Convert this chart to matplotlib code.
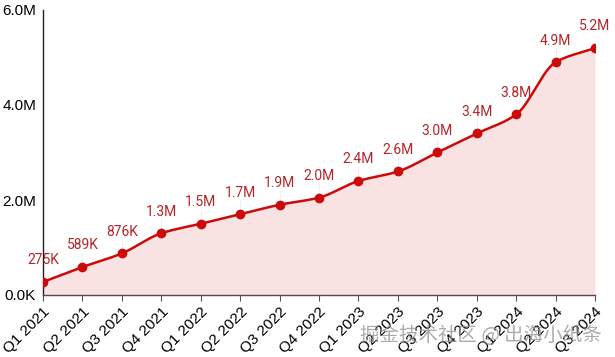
import numpy as np
import matplotlib
matplotlib.use("Agg")
import matplotlib.pyplot as plt
from matplotlib.ticker import FuncFormatter

quarters = ["Q1 2021", "Q2 2021", "Q3 2021", "Q4 2021",
            "Q1 2022", "Q2 2022", "Q3 2022", "Q4 2022",
            "Q1 2023", "Q2 2023", "Q3 2023", "Q4 2023",
            "Q1 2024", "Q2 2024", "Q3 2024"]
users = [275e3, 589e3, 876e3, 1.3e6, 1.5e6, 1.7e6, 1.9e6, 2.05e6,
         2.4e6, 2.6e6, 3.0e6, 3.4e6, 3.8e6, 4.9e6, 5.2e6]
point_labels = ["275K", "589K", "876K", "1.3M", "1.5M", "1.7M", "1.9M", "2.0M",
                "2.4M", "2.6M", "3.0M", "3.4M", "3.8M", "4.9M", "5.2M"]

LINE = "#cc0a0a"
LABEL = "#b5242a"
FILL = "#f9e2e2"

plt.rcParams["font.family"] = ["Liberation Sans", "DejaVu Sans"]


def smooth(x, y, n=30):
    """ Monotone cubic (Fritsch-Carlson) curve through the points. """
    x = np.asarray(x, float)
    y = np.asarray(y, float)
    h = np.diff(x)
    d = np.diff(y) / h
    m = np.zeros_like(y)
    m[0], m[-1] = d[0], d[-1]
    for i in range(1, len(y) - 1):
        if d[i - 1] * d[i] <= 0:
            m[i] = 0
        else:
            w1 = 2 * h[i] + h[i - 1]
            w2 = h[i] + 2 * h[i - 1]
            m[i] = (w1 + w2) / (w1 / d[i - 1] + w2 / d[i])
    xs, ys = [], []
    for i in range(len(x) - 1):
        t = np.linspace(0, 1, n, endpoint=False)
        h00 = 2 * t**3 - 3 * t**2 + 1
        h10 = t**3 - 2 * t**2 + t
        h01 = -2 * t**3 + 3 * t**2
        h11 = t**3 - t**2
        xs.append(x[i] + t * h[i])
        ys.append(h00 * y[i] + h10 * h[i] * m[i] + h01 * y[i + 1] + h11 * h[i] * m[i + 1])
    xs.append([x[-1]])
    ys.append([y[-1]])
    return np.concatenate(xs), np.concatenate(ys)


fig = plt.figure(figsize=(6.15, 3.57), dpi=100)
ax = fig.add_axes([43 / 615, 62 / 357, 552 / 615, 285 / 357])

xpos = np.arange(len(quarters))
sx, sy = smooth(xpos, users)
ax.fill_between(sx, 0, sy, color=FILL, lw=0, zorder=1)
ax.plot(sx, sy, color=LINE, lw=1.8, zorder=3)
ax.plot(xpos, users, "o", color=LINE, ms=6, zorder=4)

for xi, yi, lab in zip(xpos, users, point_labels):
    ax.plot([xi, xi], [yi, yi + 0.3e6], color="#ececec", lw=0.6, zorder=2)
    ax.annotate(lab, (xi, yi), xytext=(0, 10.5), textcoords="offset points",
                ha="center", va="bottom", fontsize=10, color=LABEL, zorder=5,
                family=["Roboto", "DejaVu Sans"], annotation_clip=False)

ax.set_xlim(0, len(quarters) - 1)
ax.set_ylim(0, 6e6)
ax.set_yticks([0, 2e6, 4e6, 6e6])


def fmt(v, pos):
    if v == 0:
        return "0.0K"
    return f"{v / 1e6:.1f}M"


ax.yaxis.set_major_formatter(FuncFormatter(fmt))
ax.set_xticks(xpos)
ax.set_xticklabels(quarters, rotation=45, ha="right", rotation_mode="anchor")
ax.tick_params(axis="x", labelsize=11, length=4, color="#555555", pad=3)
ax.tick_params(axis="y", labelsize=11, length=0, pad=5)

for side in ("top", "right"):
    ax.spines[side].set_visible(False)
ax.spines["left"].set_color("#222222")
ax.spines["bottom"].set_color("#5a4848")
ax.spines["left"].set_linewidth(1.0)
ax.spines["bottom"].set_linewidth(1.0)

# platform watermark
fig.text(0.979, 0.059, "掘金技术社区 @ 出海小纸条", ha="right", va="center",
         fontsize=14, color="#8f8f8f", alpha=0.75,
         family=["Noto Sans CJK SC", "DejaVu Sans"])

fig.savefig("out.png", dpi=100)
